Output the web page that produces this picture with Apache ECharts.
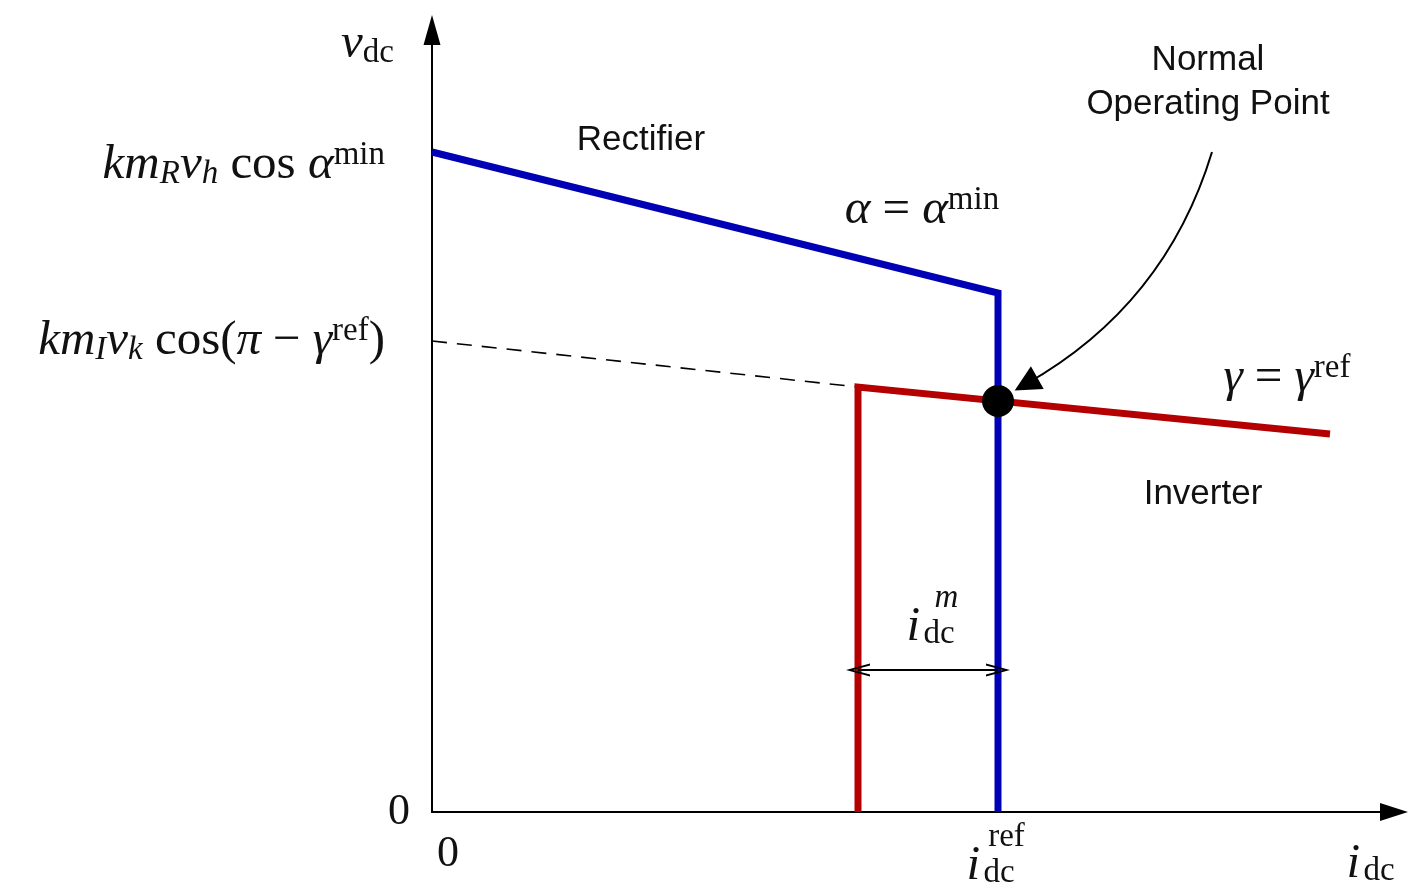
<!DOCTYPE html>
<html><head><meta charset="utf-8">
<script src="https://cdn.jsdelivr.net/npm/echarts@6/dist/echarts.min.js"></script>
<style>html,body{margin:0;padding:0;background:#fff}#c{width:1410px;height:894px}</style>
</head><body><div id="c"></div>
<script>
// ---- data (arbitrary units) ----
var rectifier = [[0, 6.60], [5.66, 5.19], [5.66, 0]];
var inverter = [[4.26, 0], [4.26, 4.25], [8.98, 3.78]];
var inverterExt = [[0, 4.71], [4.26, 4.25]];
var operatingPoint = [[5.66, 4.11]];
var marginArrow = [[4.26, 1.42], [5.66, 1.42]];
var pointerArrow = [[7.80, 6.60], [5.94, 4.28]];
var xTickValues = [0, 5.66];
var xTickLabels = ['{z0|0}', '{gap|}{sp|ref}\n{mi|i}{sl|dc}'];
var yTickValues = [0, 4.71, 6.60];
var yTickLabels = ['{z|0}',
  '{m|km}{sbi|I}{m|v}{sbi|k}{r| cos(}{m|π}{eq|−}{m|γ}{sp|ref}{r|)}{pr|}',
  '{lift|}\n{m|km}{sbi|R}{m|v}{sbi|h}{r| cos }{m|α}{sp|min}{pr|}'];
var annotations = [
  {pos: [2.09, 6.72], text: '{t|Rectifier}'},
  {pos: [4.90, 6.02], text: '{m|α}{eq|=}{m|α}{sp|min}'},
  {pos: [7.76, 7.30], text: '{t|Normal}\n{t|Operating Point}'},
  {pos: [8.55, 4.34], text: '{m|γ}{eq|=}{m|γ}{sp|ref}'},
  {pos: [7.71, 3.18], text: '{t|Inverter}'},
  {pos: [5.06, 2.04], text: '{gap|}{spi|m}\n{mi|i}{sl|dc}'}
];

var SERIF = '"Liberation Serif", "DejaVu Serif", serif';
var SANS = '"Liberation Sans", Arial, sans-serif';
var C = '#111';
var FS = 49, SS = 33;
var rich = {
  m: {fontFamily: SERIF, fontStyle: 'italic', fontSize: FS, lineHeight: 52, color: C},
  mi: {fontFamily: SERIF, fontStyle: 'italic', fontSize: FS, lineHeight: 20, verticalAlign: 'top', color: C, width: 17, align: 'left'},
  r: {fontFamily: SERIF, fontSize: FS, lineHeight: 52, color: C},
  eq: {fontFamily: SERIF, fontSize: FS, lineHeight: 52, color: C, padding: [0, 12, 0, 12]},
  sb: {fontFamily: SERIF, fontSize: SS, lineHeight: 24, verticalAlign: 'bottom', color: C},
  sl: {fontFamily: SERIF, fontSize: SS, lineHeight: 16, verticalAlign: 'top', padding: [15, 0, 0, 0], color: C, width: 46, align: 'left'},
  sbi: {fontFamily: SERIF, fontStyle: 'italic', fontSize: SS, lineHeight: 24, verticalAlign: 'bottom', color: C},
  sp: {fontFamily: SERIF, fontSize: SS, lineHeight: 24, verticalAlign: 'top', color: C},
  spi: {fontFamily: SERIF, fontStyle: 'italic', fontSize: SS, lineHeight: 10, color: C, width: 46, align: 'left'},
  gap: {width: 17, lineHeight: 10},
  lift: {lineHeight: 26},
  pr: {width: 0, padding: [0, 25, 0, 0]},
  z: {fontFamily: SERIF, fontSize: 44, lineHeight: 44, color: C},
  z0: {fontFamily: SERIF, fontSize: 44, lineHeight: 44, color: C, padding: [0, 0, 0, 32]},
  t: {fontFamily: SANS, fontSize: 35, lineHeight: 44, color: C}
};
var xRich = Object.assign({}, rich, {sp: Object.assign({}, rich.sp, {lineHeight: 10, verticalAlign: null, width: 46, align: 'left'})});
var yNameRich = Object.assign({}, rich, {sb: Object.assign({}, rich.sb, {padding: [0, 38, 0, 0]})});
var arrowHead = 'path://M-11,0 L-11,0.01 L-10.99,0 Z M11,0 L11,0.01 L10.99,0 Z M0,0 L6,22 L4.2,22 L0,6.5 L-4.2,22 L-6,22 Z';

var chart = echarts.init(document.getElementById('c'), null, {renderer: 'canvas'});
chart.setOption({
  animation: false,
  backgroundColor: '#fff',
  grid: {left: 432, right: 16, top: 30, bottom: 82, containLabel: false, outerBoundsMode: 'none'},
  xAxis: {
    type: 'value', min: 0, max: 9.62,
    splitLine: {show: false},
    axisLine: {show: true, lineStyle: {color: '#000', width: 2}, symbol: ['none', 'triangle'], symbolSize: [18, 28]},
    axisTick: {show: false},
    axisLabel: {customValues: xTickValues, margin: 20, align: 'center',
      formatter: function (v) { return xTickLabels[xTickValues.indexOf(v)] || ''; }, rich: xRich},
    name: '{mi|i}{sl|dc}', nameLocation: 'end', nameGap: -16,
    nameTextStyle: {align: 'center', verticalAlign: 'top', padding: [28, 0, 0, 0], rich: rich}
  },
  yAxis: {
    type: 'value', min: 0, max: 7.82,
    splitLine: {show: false},
    axisLine: {show: true, lineStyle: {color: '#000', width: 2}, symbol: ['none', 'triangle'], symbolSize: [17, 30]},
    axisTick: {show: false},
    axisLabel: {customValues: yTickValues, margin: 22,
      formatter: function (v) { return yTickLabels[yTickValues.indexOf(v)] || ''; }, rich: rich},
    name: '{m|v}{sb|dc}', nameLocation: 'end', nameGap: 12,
    nameTextStyle: {align: 'right', verticalAlign: 'top', rich: yNameRich}
  },
  series: [
    {type: 'line', data: inverterExt, symbol: 'none', lineStyle: {color: '#000', width: 1.6, type: [15, 10]}, z: 2},
    {type: 'line', data: rectifier, symbol: 'none', lineStyle: {color: '#0000b4', width: 7, join: 'miter', cap: 'butt'}, z: 3},
    {type: 'line', data: inverter, symbol: 'none', lineStyle: {color: '#b40000', width: 7, join: 'miter', cap: 'butt'}, z: 4},
    {type: 'scatter', data: operatingPoint, symbolSize: 32, itemStyle: {color: '#000', opacity: 1}, z: 10},
    {type: 'lines', coordinateSystem: 'cartesian2d', z: 6,
      data: [{coords: marginArrow}],
      symbol: [arrowHead, arrowHead], symbolSize: 24,
      lineStyle: {color: '#000', width: 2, curveness: 0, opacity: 1}, itemStyle: {color: '#000'}},
    {type: 'lines', coordinateSystem: 'cartesian2d', z: 6,
      data: [{coords: pointerArrow}],
      symbol: ['none', 'triangle'], symbolSize: 26,
      lineStyle: {color: '#000', width: 2, curveness: 0.2, opacity: 1}, itemStyle: {color: '#000'}},
    {type: 'scatter', symbolSize: 0, z: 8, clip: false,
      itemStyle: {opacity: 1},
      data: annotations.map(function (a) { return {value: a.pos, text: a.text}; }),
      label: {show: true, position: 'inside', align: 'center', verticalAlign: 'middle',
        formatter: function (p) { return p.data.text; }, rich: rich}}
  ]
});
</script></body></html>
